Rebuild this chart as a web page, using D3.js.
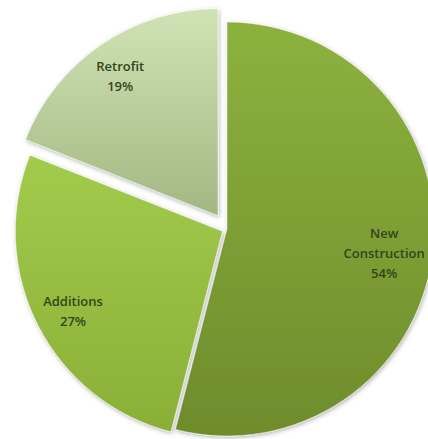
<!DOCTYPE html>
<html>
<head>
<meta charset="utf-8">
<script src="https://cdn.jsdelivr.net/npm/d3@7"></script>
<style>
  html, body { margin: 0; padding: 0; background: #fff; }
  svg { display: block; }
</style>
</head>
<body>
<script>
// data
const categories = ['New Construction', 'Additions', 'Retrofit'];
const shares = [54, 27, 19];
const labelLines = [['New', 'Construction', '54%'], ['Additions', '27%'], ['Retrofit', '19%']];

// look
const topColors = ['#8cb23e', '#a2cb4c', '#d0e3b4'];
const bottomColors = ['#6e8c2c', '#8aaf37', '#a3b783'];
const explode = [0, 0.025, 0.078];
const labelRadius = [0.765, 0.81, 0.84];

const width = 428;
const height = 439;
const radius = 207;
const cx = 227;
const cy = 229;

const svg = d3.select('body')
  .append('svg')
    .attr('width', width)
    .attr('height', height);

const defs = svg.append('defs');

const shadow = defs.append('filter')
  .attr('id', 'shadow')
  .attr('x', '-10%').attr('y', '-10%')
  .attr('width', '120%').attr('height', '120%');
shadow.append('feDropShadow')
  .attr('dx', 1).attr('dy', 1.5)
  .attr('stdDeviation', 2)
  .attr('flood-color', '#000')
  .attr('flood-opacity', 0.3);

categories.forEach((c, i) => {
  const grad = defs.append('linearGradient')
    .attr('id', `grad${i}`)
    .attr('x1', 0).attr('y1', 0)
    .attr('x2', 0).attr('y2', 1);
  grad.append('stop').attr('offset', 0).attr('stop-color', topColors[i]);
  grad.append('stop').attr('offset', 1).attr('stop-color', bottomColors[i]);
});

const pie = d3.pie().sort(null).value(d => d)(shares);

const arc = d3.arc()
  .innerRadius(0)
  .outerRadius(radius);

const g = svg.append('g')
  .attr('transform', `translate(${cx},${cy})`);

const slice = g.selectAll('.slice')
  .data(pie)
  .enter()
    .append('g')
      .attr('class', 'slice')
      .attr('transform', (d, i) => {
        const a = (d.startAngle + d.endAngle) / 2;
        const off = explode[i] * radius;
        return `translate(${Math.sin(a) * off},${-Math.cos(a) * off})`;
      });

slice.append('path')
  .attr('d', arc)
  .attr('fill', (d, i) => `url(#grad${i})`)
  .attr('stroke', 'rgba(255,255,255,0.45)')
  .attr('stroke-width', 1)
  .attr('filter', 'url(#shadow)');

const label = slice.append('text')
  .attr('transform', (d, i) => {
    const r = radius * labelRadius[i];
    return `translate(${d3.arc().innerRadius(r).outerRadius(r).centroid(d)})`;
  })
  .attr('text-anchor', 'middle')
  .attr('font-family', '"Open Sans", Lato, sans-serif')
  .attr('font-size', 13)
  .attr('font-weight', 600)
  .attr('fill', '#34451a');

label.selectAll('tspan')
  .data((d, i) => labelLines[i].map((t, k, arr) => ({ t, k, n: arr.length })))
  .enter()
    .append('tspan')
      .attr('x', 0)
      .attr('y', d => (d.k - (d.n - 1) / 2) * 20 + 9)
      .text(d => d.t);
</script>
</body>
</html>
